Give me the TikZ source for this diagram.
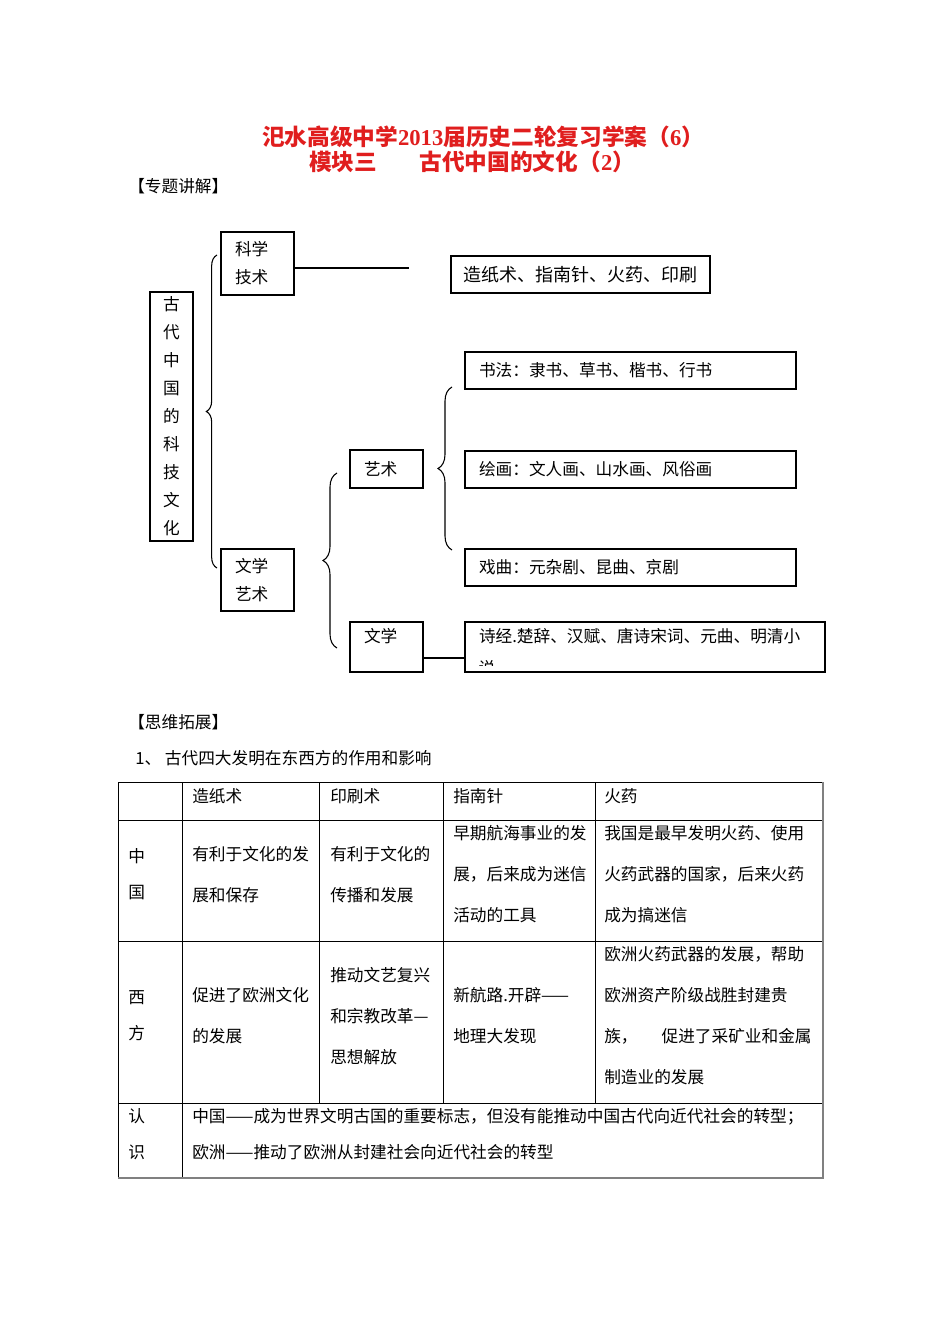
\documentclass[tikz,border=0pt]{standalone}
\usepackage{fontspec}
\usepackage{xcolor}
\usepackage{tikz}
\usetikzlibrary{decorations.pathreplacing}
\setmainfont{Liberation Serif}
\newfontfamily\cjk{Noto Sans CJK SC}
\definecolor{titlered}{HTML}{E01E1E}
\definecolor{rulegray}{HTML}{808080}

\begin{document}
\begin{tikzpicture}[x=0.75pt, y=-0.75pt,
  every node/.style={font=\cjk\fontsize{12.5}{15}\selectfont, inner sep=0pt},
  title/.style={font=\cjk\bfseries\fontsize{17}{20}\selectfont, text=titlered},
  head/.style={anchor=base west},
  box/.style={draw, line width=0.9pt, align=center},
  mid/.style={box, minimum width=54.75pt, inner xsep=10.5pt, text width=33.75pt, align=left},
  item/.style={box, minimum width=248.25pt, minimum height=27.75pt, inner xsep=10.5pt, text width=227.25pt, align=left},
  link/.style={line width=0.9pt},
  brace/.style={decorate, decoration={brace, amplitude=8pt}, line width=0.8pt},
  rule/.style={line width=0.6pt},
  edge/.style={line width=1.1pt, rulegray},
  cell/.style={anchor=base west, align=left, font=\cjk\fontsize{12.5}{30.75}\selectfont},
  side/.style={anchor=base west, align=left, font=\cjk\fontsize{12.5}{26.5}\selectfont}]
  \useasboundingbox (0,0) rectangle (950,1344);

  % heading
  \node[title] (t1) at (483,137) {汜水高级中学{\rmfamily\bfseries 2013}届历史二轮复习学案（{\rmfamily\bfseries 6}）};
  \node[title] (t2) at (472,162) {模块三\hspace{32pt}古代中国的文化（{\rmfamily\bfseries 2}）};
  \node[head] (s1) at (128,193) {【专题讲解】};

  % tree
  \node[box, minimum width=32.25pt, minimum height=186.75pt, font=\cjk\fontsize{12.5}{21}\selectfont] (root) at (171.5,416.5) {古\\代\\中\\国\\的\\科\\技\\文\\化};
  \node[mid, minimum height=47.25pt, font=\cjk\fontsize{12.5}{21}\selectfont] (kx) at (257.5,263.5) {科学\\技术};
  \node[mid, minimum height=46.5pt, font=\cjk\fontsize{12.5}{21}\selectfont] (wy) at (257.5,580) {文学\\艺术};
  \node[box, minimum width=194.25pt, minimum height=27.75pt, font=\cjk\fontsize{13.5}{16}\selectfont] (inv) at (580.5,274.5) {造纸术、指南针、火药、印刷};
  \node[mid, minimum height=28.5pt] (ys) at (386.5,469) {艺术};
  \node[mid, minimum height=37.5pt, text height=10pt, text depth=17pt] (wx) at (386.5,647) {文学};
  \node[item] (sf) at (630.5,370.5) {书法：隶书、草书、楷书、行书};
  \node[item] (hh) at (630.5,469.5) {绘画：文人画、山水画、风俗画};
  \node[item] (xq) at (630.5,567.5) {戏曲：元杂剧、昆曲、京剧};
  \node[item, minimum width=270pt, text width=249pt, minimum height=37.5pt, text height=10pt, text depth=17pt] (sj) at (645,647) {诗经.楚辞、汉赋、唐诗宋词、元曲、明清小};
  \begin{scope}
    \clip (466,658) rectangle (824,665);
    \node (sjx) at (487,668) {说};
  \end{scope}

  \coordinate (kxend) at (409,268);
  \draw[link] (kx.east |- kxend) -- (kxend);
  \draw[link] ([yshift=-8.25pt]wx.east) -- ([yshift=-8.25pt]sj.west);
  \draw[brace] (217,568) -- (217,255);
  \draw[brace, decoration={amplitude=10.5pt}] (452,550) -- (452,387);
  \draw[brace, decoration={amplitude=10.5pt}] (337,648) -- (337,473);

  % table (multi-line cells sit on the baseline of their last line)
  \node[head] (s2) at (128,728) {【思维拓展】};
  \node[head] (q1) at (135,764) {1、 古代四大发明在东西方的作用和影响};
  \draw[rule] (118,782) rectangle (823,1178);
  \foreach \y in {820,941,1103} \draw[rule] (118,\y) -- (823,\y);
  \draw[rule] (182,782) -- (182,1178);
  \foreach \x in {319,443,595} \draw[rule] (\x,782) -- (\x,1103);
  \draw[edge] (823,782) -- (823,1178) -- (118,1178);

  \node[cell] (h1) at (192,802) {造纸术};
  \node[cell] (h2) at (330,802) {印刷术};
  \node[cell] (h3) at (453,802) {指南针};
  \node[cell] (h4) at (604,802) {火药};

  \node[side] (r1) at (128,898) {中\\国};
  \node[cell] (a1) at (192,901) {有利于文化的发\\展和保存};
  \node[cell] (a2) at (330,901) {有利于文化的\\传播和发展};
  \node[cell] (a3) at (453,921) {早期航海事业的发\\展，后来成为迷信\\活动的工具};
  \node[cell] (a4) at (604,921) {我国是最早发明火药、使用\\火药武器的国家，后来火药\\成为搞迷信};

  \node[side] (r2) at (128,1039) {西\\方};
  \node[cell] (b1) at (192,1042) {促进了欧洲文化\\的发展};
  \node[cell] (b2) at (330,1063) {推动文艺复兴\\和宗教改革—\\思想解放};
  \node[cell] (b3) at (453,1042) {新航路.开辟——\\地理大发现};
  \node[cell] (b4) at (604,1083) {欧洲火药武器的发展，帮助\\欧洲资产阶级战胜封建贵\\族，\hspace{18pt}促进了采矿业和金属\\制造业的发展};

  \node[side] (r3) at (128,1158) {认\\识};
  \node[side, font=\cjk\fontsize{12.5}{27}\selectfont] (c1) at (192,1158) {中国——成为世界文明古国的重要标志，但没有能推动中国古代向近代社会的转型；\\欧洲——推动了欧洲从封建社会向近代社会的转型};
\end{tikzpicture}
\end{document}
